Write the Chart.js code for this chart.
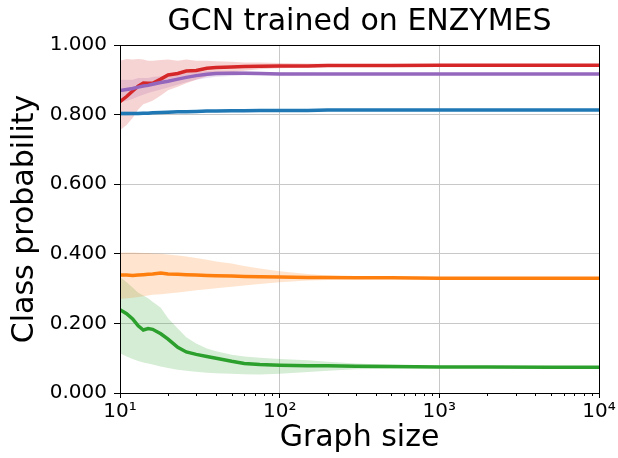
<!DOCTYPE html>
<html lang="en">
<head>
<meta charset="UTF-8" />
<title>GCN trained on ENZYMES</title>
<script src="https://cdn.jsdelivr.net/npm/chart.js"></script>
<style>
  html, body { margin: 0; padding: 0; background: #fff; }
</style>
</head>
<body>
<canvas id="probChart" width="618" height="458"></canvas>
<script>
  // x values (graph sizes) shared by every curve
  const graphSizes = [10, 11, 12, 13, 14, 15, 16, 18, 20, 23, 26, 30, 35, 40, 50, 60, 75, 100, 150, 200, 300, 500, 1000, 2000, 5000, 10000];

  // class 0 (blue)
  const blueMean  = [0.803, 0.803, 0.803, 0.803, 0.804, 0.804, 0.805, 0.806, 0.807, 0.808, 0.808, 0.809, 0.810, 0.810, 0.811, 0.811, 0.812, 0.812, 0.812, 0.813, 0.813, 0.813, 0.813, 0.813, 0.813, 0.813];
  const blueLow   = [0.797, 0.797, 0.798, 0.798, 0.799, 0.800, 0.801, 0.802, 0.803, 0.805, 0.805, 0.806, 0.807, 0.808, 0.809, 0.809, 0.810, 0.810, 0.811, 0.812, 0.812, 0.812, 0.812, 0.812, 0.812, 0.812];
  const blueHigh  = [0.809, 0.809, 0.808, 0.808, 0.809, 0.808, 0.809, 0.810, 0.811, 0.811, 0.811, 0.812, 0.813, 0.812, 0.813, 0.813, 0.814, 0.814, 0.813, 0.814, 0.814, 0.814, 0.814, 0.814, 0.814, 0.814];

  // class 1 (orange)
  const orangeMean = [0.339, 0.339, 0.338, 0.339, 0.340, 0.341, 0.342, 0.345, 0.342, 0.341, 0.340, 0.339, 0.338, 0.337, 0.336, 0.335, 0.334, 0.333, 0.332, 0.332, 0.331, 0.331, 0.330, 0.330, 0.330, 0.330];
  const orangeLow  = [0.270, 0.272, 0.274, 0.276, 0.278, 0.280, 0.282, 0.284, 0.286, 0.289, 0.292, 0.295, 0.298, 0.301, 0.305, 0.309, 0.313, 0.318, 0.323, 0.325, 0.327, 0.328, 0.328, 0.328, 0.328, 0.328];
  const orangeHigh = [0.403, 0.404, 0.404, 0.403, 0.402, 0.402, 0.401, 0.400, 0.398, 0.395, 0.392, 0.388, 0.383, 0.378, 0.372, 0.365, 0.358, 0.350, 0.342, 0.338, 0.335, 0.334, 0.333, 0.332, 0.332, 0.332];

  // class 2 (green)
  const greenMean = [0.239, 0.228, 0.213, 0.193, 0.181, 0.185, 0.183, 0.170, 0.155, 0.131, 0.118, 0.111, 0.105, 0.100, 0.091, 0.085, 0.082, 0.080, 0.078, 0.078, 0.077, 0.076, 0.075, 0.075, 0.074, 0.074];
  const greenLow  = [0.114, 0.105, 0.098, 0.092, 0.088, 0.085, 0.082, 0.076, 0.072, 0.067, 0.064, 0.061, 0.058, 0.057, 0.055, 0.054, 0.053, 0.055, 0.060, 0.064, 0.068, 0.070, 0.072, 0.072, 0.072, 0.072];
  const greenHigh = [0.333, 0.318, 0.303, 0.288, 0.280, 0.272, 0.262, 0.245, 0.215, 0.185, 0.160, 0.142, 0.128, 0.120, 0.110, 0.105, 0.101, 0.098, 0.094, 0.090, 0.085, 0.081, 0.078, 0.077, 0.076, 0.076];

  // class 3 (red)
  const redMean = [0.837, 0.852, 0.868, 0.882, 0.891, 0.890, 0.890, 0.902, 0.914, 0.918, 0.925, 0.927, 0.933, 0.935, 0.937, 0.938, 0.939, 0.940, 0.940, 0.941, 0.941, 0.941, 0.942, 0.942, 0.942, 0.942];
  const redLow  = [0.755, 0.770, 0.790, 0.815, 0.830, 0.835, 0.840, 0.855, 0.870, 0.880, 0.890, 0.900, 0.910, 0.915, 0.922, 0.926, 0.930, 0.933, 0.935, 0.937, 0.938, 0.939, 0.940, 0.941, 0.941, 0.941];
  const redHigh = [0.955, 0.960, 0.958, 0.960, 0.958, 0.955, 0.955, 0.957, 0.958, 0.955, 0.958, 0.955, 0.955, 0.953, 0.952, 0.950, 0.950, 0.948, 0.947, 0.946, 0.945, 0.944, 0.944, 0.943, 0.943, 0.943];

  // class 4 (purple)
  const purpleMean = [0.869, 0.872, 0.875, 0.879, 0.882, 0.884, 0.887, 0.892, 0.896, 0.902, 0.907, 0.912, 0.916, 0.918, 0.919, 0.919, 0.918, 0.917, 0.917, 0.917, 0.917, 0.917, 0.917, 0.917, 0.917, 0.917];
  const purpleLow  = [0.835, 0.840, 0.845, 0.852, 0.857, 0.862, 0.866, 0.872, 0.878, 0.886, 0.893, 0.900, 0.905, 0.909, 0.911, 0.913, 0.913, 0.913, 0.914, 0.915, 0.915, 0.915, 0.915, 0.915, 0.915, 0.915];
  const purpleHigh = [0.900, 0.900, 0.900, 0.905, 0.905, 0.905, 0.908, 0.910, 0.913, 0.917, 0.920, 0.923, 0.925, 0.926, 0.926, 0.925, 0.923, 0.921, 0.920, 0.919, 0.919, 0.919, 0.919, 0.919, 0.919, 0.919];

  const xTickValues = [10, 100, 1000, 10000];
  const xTickLabels = ['10\u00B9', '10\u00B2', '10\u00B3', '10\u2074'];
  const yTickValues = [0, 0.2, 0.4, 0.6, 0.8, 1.0];

  const pts = arr => arr.map((v, i) => ({ x: graphSizes[i], y: v }));

  function bandSets(low, high, rgb) {
    return [
      { data: pts(low), borderWidth: 0, pointRadius: 0, fill: false, order: 100 },
      { data: pts(high), borderWidth: 0, pointRadius: 0, fill: '-1',
        backgroundColor: 'rgba(' + rgb + ',0.2)', order: 100 }
    ];
  }

  function lineSet(mean, hex, order) {
    return { data: pts(mean), borderColor: hex, borderWidth: 3.5, pointRadius: 0,
             fill: false, tension: 0, order: order };
  }

  // spines on all four sides + short minor ticks on the log axis
  const frameAndMinorTicks = {
    id: 'frameAndMinorTicks',
    afterDraw(chart) {
      const { ctx, chartArea: a, scales: { x } } = chart;
      ctx.save();
      ctx.strokeStyle = '#000';
      ctx.lineWidth = 1;
      ctx.beginPath();
      for (let d = 10; d < 10000; d *= 10) {
        for (let m = 2; m <= 9; m++) {
          const px = Math.round(x.getPixelForValue(d * m)) + 0.5;
          ctx.moveTo(px, a.bottom);
          ctx.lineTo(px, a.bottom + 3);
        }
      }
      ctx.stroke();
      ctx.strokeRect(Math.round(a.left) + 0.5, Math.round(a.top) + 0.5,
                     Math.round(a.right - a.left), Math.round(a.bottom - a.top));
      ctx.restore();
    }
  };

  new Chart(document.getElementById('probChart'), {
    type: 'line',
    data: {
      datasets: [
        ...bandSets(blueLow, blueHigh, '31,119,180'),
        ...bandSets(orangeLow, orangeHigh, '255,127,14'),
        ...bandSets(greenLow, greenHigh, '44,160,44'),
        ...bandSets(redLow, redHigh, '214,39,40'),
        ...bandSets(purpleLow, purpleHigh, '148,103,189'),
        lineSet(blueMean, '#1f77b4', 50),
        lineSet(orangeMean, '#ff7f0e', 40),
        lineSet(greenMean, '#2ca02c', 30),
        lineSet(redMean, '#d62728', 20),
        lineSet(purpleMean, '#9467bd', 10)
      ]
    },
    options: {
      responsive: false,
      animation: false,
      layout: { padding: { left: 0, right: 19, top: 0, bottom: 0 } },
      plugins: {
        legend: { display: false },
        tooltip: { enabled: false },
        title: {
          display: true,
          text: 'GCN trained on ENZYMES',
          color: '#000',
          fullSize: false,
          font: { family: 'DejaVu Sans', size: 30, weight: 'normal' },
          padding: { top: 4, bottom: 5 }
        }
      },
      scales: {
        x: {
          type: 'logarithmic',
          min: 10,
          max: 10000,
          afterBuildTicks: s => { s.ticks = xTickValues.map(v => ({ value: v })); },
          afterFit: s => { s.height = 65; },
          ticks: {
            autoSkip: false,
            maxRotation: 0,
            color: '#000',
            padding: 2,
            font: { family: 'DejaVu Sans', size: 20 },
            callback: v => xTickLabels[xTickValues.indexOf(v)] || ''
          },
          grid: { color: '#c8c8c8', lineWidth: 1, tickColor: '#000', tickLength: 5 },
          border: { color: '#000', width: 1 },
          title: {
            display: true,
            text: 'Graph size',
            color: '#000',
            font: { family: 'DejaVu Sans', size: 30 },
            padding: { top: 0, bottom: 2 }
          }
        },
        y: {
          type: 'linear',
          min: 0,
          max: 1,
          afterBuildTicks: s => { s.ticks = yTickValues.map(v => ({ value: v })); },
          afterFit: s => { s.width = 120; },
          ticks: {
            color: '#000',
            padding: 7,
            font: { family: 'DejaVu Sans', size: 20 },
            callback: v => Number(v).toFixed(3)
          },
          grid: { color: '#c8c8c8', lineWidth: 1, tickColor: '#000', tickLength: 6 },
          border: { color: '#000', width: 1 },
          title: {
            display: true,
            text: 'Class probability',
            color: '#000',
            font: { family: 'DejaVu Sans', size: 30 },
            padding: { top: 7, bottom: 0 }
          }
        }
      }
    },
    plugins: [frameAndMinorTicks]
  });
</script>
</body>
</html>
